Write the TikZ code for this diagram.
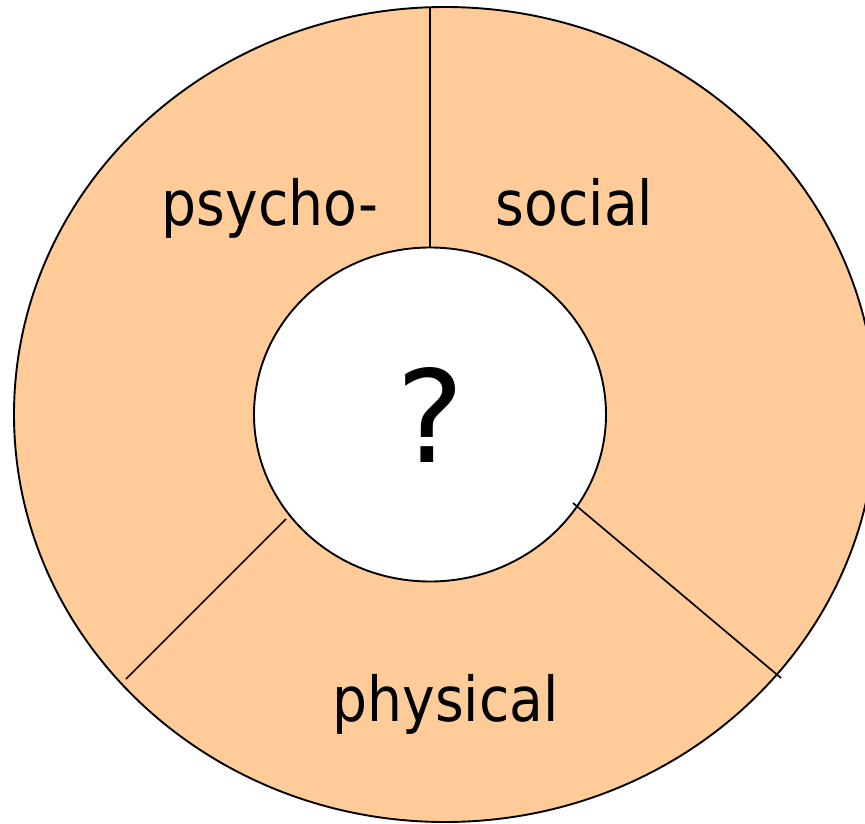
\documentclass[tikz,border=0pt]{standalone}
\usepackage{fontspec}
\setmainfont[FakeStretch=0.89]{DejaVu Sans}
\newfontfamily\qfont{DejaVu Sans}
\definecolor{peach}{HTML}{FFCC99}
\tikzset{
  ring/.style={draw=black, line width=1.9pt},
  divider/.style={draw=black, line width=1.7pt},
  label/.style={anchor=base, inner sep=0pt, font=\fontsize{62}{70}\selectfont},
  qlabel/.style={anchor=base, inner sep=0pt, font=\qfont\fontsize{128}{140}\selectfont}
}
\begin{document}
\begin{tikzpicture}[x=1pt, y=-1pt]
\useasboundingbox (0,0) rectangle (865,824);
\clip (0,0) rectangle (865,824);
\fill[white] (0,0) rectangle (865,824);
% outer disc
\path[ring, fill=peach] (445,414.5) ellipse [x radius=431, y radius=407.5];
% inner disc
\path[ring, fill=white] (430,414.5) ellipse [x radius=176, y radius=167];
% divider endpoints
\coordinate (topOut) at (430,7);
\coordinate (topIn) at (430,247.5);
\coordinate (llIn) at (286,519);
\coordinate (llOut) at (126,679);
\coordinate (lrIn) at (573,503);
\coordinate (lrOut) at (781,678);
\draw[divider] (topOut) -- (topIn);
\draw[divider] (llIn) -- (llOut);
\draw[divider] (lrIn) -- (lrOut);
% labels
\node[label] (psycho) at (270,225) {psycho-};
\node[label] (social) at (574.5,225) {social};
\node[label] (physical) at (445.5,721) {physical};
\node[qlabel] (q) at (430,462) {?};
\end{tikzpicture}
\end{document}
